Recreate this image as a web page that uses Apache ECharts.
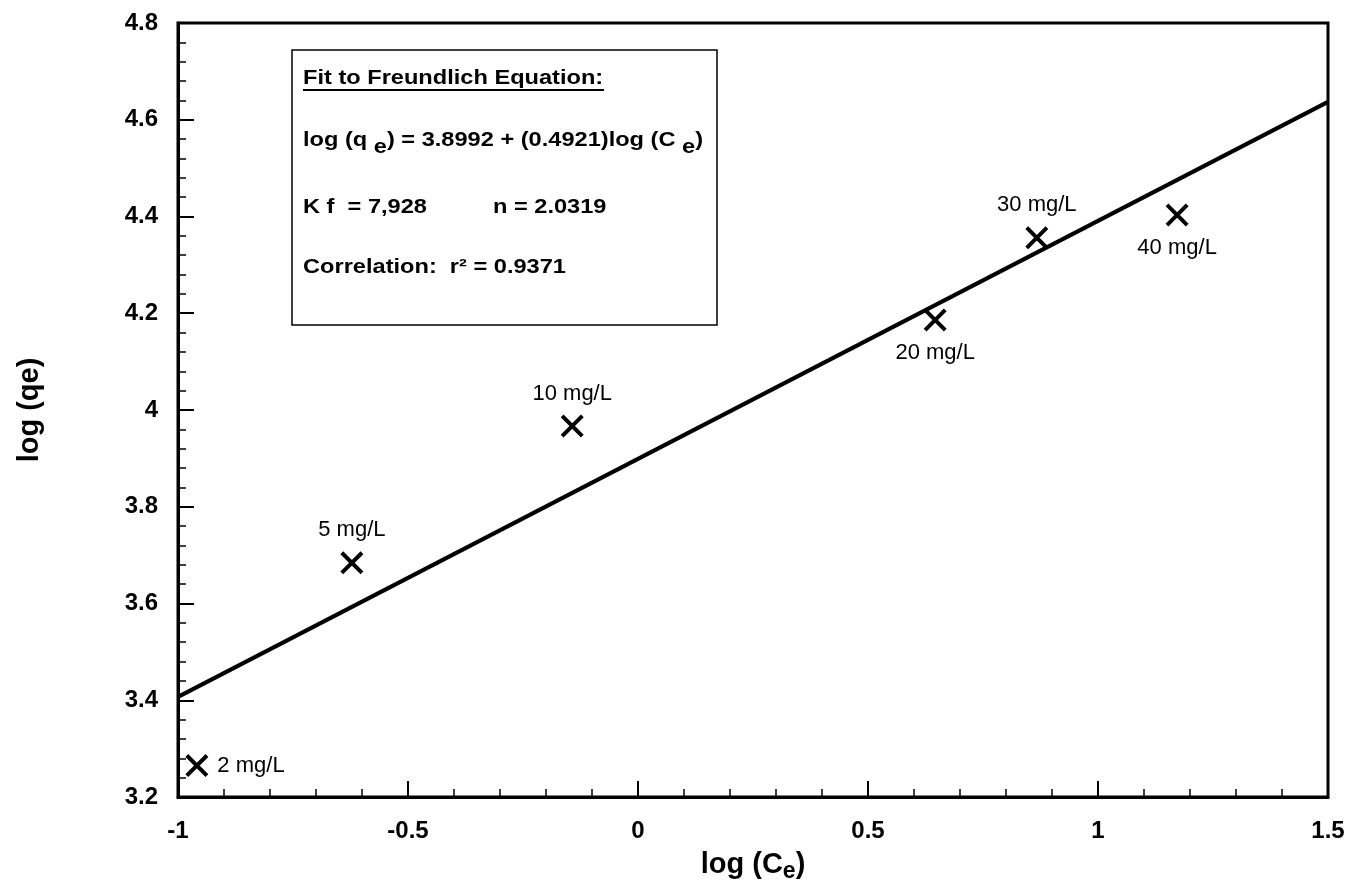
<!DOCTYPE html>
<html>
<head>
<meta charset="utf-8">
<script src="https://cdn.jsdelivr.net/npm/echarts@6/dist/echarts.min.js"></script>
<style>html,body{margin:0;padding:0;background:#fff;}#c{width:1354px;height:892px;}</style>
</head>
<body>
<div id="c"></div>
<script>
// Data
const concLabels = ['2 mg/L', '5 mg/L', '10 mg/L', '20 mg/L', '30 mg/L', '40 mg/L'];
const logCe = [-0.959, -0.622, -0.143, 0.646, 0.867, 1.172];
const logQe = [3.265, 3.684, 3.967, 4.186, 4.356, 4.403];
// Fitted line endpoints (log(qe) = 3.8992 + 0.4921 log(Ce))
const fitX = [-1, 1.5];
const fitY = [3.407, 4.637];
const xTicks = [-1, -0.5, 0, 0.5, 1, 1.5];
const yTicks = [3.2, 3.4, 3.6, 3.8, 4, 4.2, 4.4, 4.6, 4.8];

const FONT = '"Liberation Sans", Arial, sans-serif';
const labelPlace = [
  {position: 'right', distance: 9},
  {position: 'top', distance: 10},
  {position: 'top', distance: 10},
  {position: 'bottom', distance: 10},
  {position: 'top', distance: 10},
  {position: 'bottom', distance: 10}
];
const XSYM = 'path://M0.7,-0.7L10.7,9.3L9.3,10.7L-0.7,0.7Z' +
             'M10.7,0.7L0.7,10.7L-0.7,9.3L9.3,-0.7Z';

const chart = echarts.init(document.getElementById('c'));
const SX = 1.18;
function boxText(x, y, text, extra) {
  return Object.assign({type: 'text', x: x, y: y, z: 11, scaleX: SX,
    style: {text: text, font: 'bold 20px ' + FONT, fill: '#000', verticalAlign: 'middle'}}, extra || {});
}
const option = {
  backgroundColor: '#fff',
  animation: false,
  grid: {left: 178, right: 26, top: 23, bottom: 95, show: true, borderColor: '#000', borderWidth: 3},
  xAxis: {
    type: 'value', min: xTicks[0], max: xTicks[xTicks.length - 1], interval: 0.5,
    name: '{m|log (C}{s|e}{m|)}', nameLocation: 'middle', nameGap: 50,
    nameTextStyle: {rich: {
      m: {fontFamily: FONT, fontWeight: 'bold', fontSize: 29, color: '#000', lineHeight: 34},
      s: {fontFamily: FONT, fontWeight: 'bold', fontSize: 23, color: '#000', lineHeight: 34, padding: [12, 0, 0, 0]}
    }},
    axisLine: {show: true, onZero: false, lineStyle: {color: '#000', width: 3}},
    axisTick: {show: true, inside: true, length: 16, lineStyle: {color: '#000', width: 2}},
    minorTick: {show: true, splitNumber: 5, length: 8, lineStyle: {color: '#000', width: 1.5}},
    splitLine: {show: false},
    axisLabel: {margin: 22, fontFamily: FONT, fontWeight: 'bold', fontSize: 24, color: '#000',
      formatter: v => String(v)}
  },
  yAxis: {
    type: 'value', min: yTicks[0], max: yTicks[yTicks.length - 1], interval: 0.2,
    name: 'log (qe)', nameLocation: 'middle', nameGap: 134, nameRotate: 90,
    nameTextStyle: {fontFamily: FONT, fontWeight: 'bold', fontSize: 29, color: '#000'},
    axisLine: {show: true, onZero: false, lineStyle: {color: '#000', width: 3}},
    axisTick: {show: true, inside: true, length: 16, lineStyle: {color: '#000', width: 2}},
    minorTick: {show: true, splitNumber: 5, length: 8, lineStyle: {color: '#000', width: 1.5}},
    splitLine: {show: false},
    axisLabel: {margin: 20, fontFamily: FONT, fontWeight: 'bold', fontSize: 24, color: '#000',
      formatter: v => String(Math.round(v * 10) / 10)}
  },
  series: [
    {
      type: 'line', data: fitX.map((x, i) => [x, fitY[i]]),
      symbol: 'none', lineStyle: {color: '#000', width: 4}, z: 2, silent: true
    },
    {
      type: 'scatter', z: 3,
      symbol: XSYM, symbolSize: 23,
      itemStyle: {color: '#000', opacity: 1},
      data: logCe.map((x, i) => ({
        value: [x, logQe[i]], name: concLabels[i],
        label: {show: true, formatter: concLabels[i], position: labelPlace[i].position,
          distance: labelPlace[i].distance, fontFamily: FONT, fontSize: 22, color: '#000'}
      }))
    }
  ],
  graphic: [
    {type: 'rect', shape: {x: 292, y: 50, width: 425, height: 275},
      style: {fill: '#fff', stroke: '#000', lineWidth: 1.5}, z: 10},
    boxText(303, 78, 'Fit to Freundlich Equation:'),
    {type: 'line', shape: {x1: 303, y1: 90, x2: 604, y2: 90}, style: {stroke: '#000', lineWidth: 1.8}, z: 11},
    {type: 'text', x: 303, y: 140, z: 11, scaleX: SX,
      style: {
        text: '{m|log (q }{s|e}{m|) = 3.8992 + (0.4921)log (C }{s|e}{m|)}',
        verticalAlign: 'middle',
        rich: {
          m: {font: 'bold 20px ' + FONT, fill: '#000', lineHeight: 26},
          s: {font: 'bold 20px ' + FONT, fill: '#000', lineHeight: 26, padding: [14, 0, 0, 0]}
        }
      }},
    boxText(303, 207, 'K f  = 7,928'),
    boxText(493, 207, 'n = 2.0319'),
    boxText(303, 267, 'Correlation:  r² = 0.9371')
  ]
};
chart.setOption(option);
</script>
</body>
</html>
